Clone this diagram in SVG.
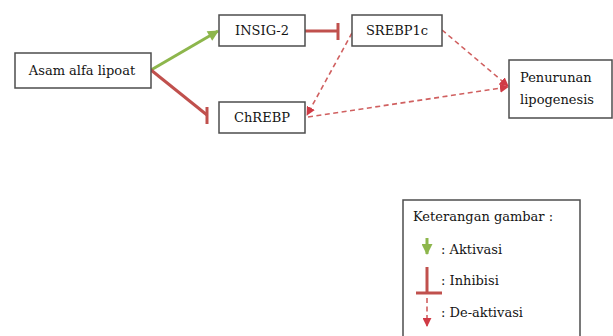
<svg xmlns="http://www.w3.org/2000/svg" width="613" height="336" viewBox="0 0 613 336">
  <style>
    .box { fill: #ffffff; stroke: #4d4d4d; stroke-width: 1.5; }
    .lbl { font-family: "DejaVu Serif", "Liberation Serif", serif; font-size: 13px; fill: #141414; }
    .act { stroke: #8db64c; stroke-width: 3; fill: none; }
    .inh { stroke: #c0504d; stroke-width: 3; fill: none; }
    .deact { stroke: #d06060; stroke-width: 1.6; fill: none; stroke-dasharray: 5 3.5; }
  </style>
  <defs>
    <marker id="arrGreen" viewBox="0 0 10 10" refX="9" refY="5" markerWidth="12" markerHeight="11" orient="auto" markerUnits="userSpaceOnUse">
      <path d="M0,0 L10,5 L0,10 z" fill="#8db64c"/>
    </marker>
    <marker id="arrRed" viewBox="0 0 10 10" refX="9" refY="5" markerWidth="9" markerHeight="9" orient="auto" markerUnits="userSpaceOnUse">
      <path d="M0,0 L10,5 L0,10 z" fill="#d03a45"/>
    </marker>
  </defs>

  <g id="connectors">
    <!-- activation -->
    <line class="act" x1="151" y1="70" x2="218" y2="31" marker-end="url(#arrGreen)"/>
    <!-- inhibition: lipoate to ChREBP -->
    <line class="inh" x1="151" y1="70" x2="207" y2="115"/>
    <line class="inh" x1="207" y1="107" x2="207" y2="124"/>
    <!-- inhibition: INSIG-2 to SREBP1c -->
    <line class="inh" x1="305" y1="31" x2="338" y2="31"/>
    <line class="inh" x1="338" y1="23" x2="338" y2="40"/>
    <!-- de-activation -->
    <line class="deact" x1="352" y1="33" x2="307" y2="115" marker-end="url(#arrRed)"/>
    <line class="deact" x1="442" y1="30" x2="508" y2="86" marker-end="url(#arrRed)"/>
    <line class="deact" x1="308" y1="117" x2="508" y2="87" marker-end="url(#arrRed)"/>
  </g>

  <g id="asam">
    <rect class="box" x="15" y="53" width="136" height="35"/>
    <text class="lbl" x="82" y="75" text-anchor="middle">Asam alfa lipoat</text>
  </g>
  <g id="insig2">
    <rect class="box" x="219" y="15" width="86" height="31"/>
    <text class="lbl" x="262" y="35" text-anchor="middle">INSIG-2</text>
  </g>
  <g id="chrebp">
    <rect class="box" x="219" y="102" width="86" height="31"/>
    <text class="lbl" x="262" y="122" text-anchor="middle">ChREBP</text>
  </g>
  <g id="srebp1c">
    <rect class="box" x="352" y="15" width="90" height="31"/>
    <text class="lbl" x="397" y="35" text-anchor="middle">SREBP1c</text>
  </g>
  <g id="penurunan">
    <rect class="box" x="509" y="60" width="103" height="58"/>
    <text class="lbl" x="520" y="82">Penurunan</text>
    <text class="lbl" x="520" y="104">lipogenesis</text>
  </g>

  <g id="legend">
    <rect class="box" x="403" y="200" width="177" height="150"/>
    <text class="lbl" x="413" y="221">Keterangan gambar :</text>
    <line class="act" x1="427" y1="238" x2="427" y2="254" marker-end="url(#arrGreen)"/>
    <text class="lbl" x="441" y="254">: Aktivasi</text>
    <line class="inh" x1="427" y1="267" x2="427" y2="293"/>
    <line class="inh" x1="416" y1="293" x2="442" y2="293"/>
    <text class="lbl" x="441" y="285">: Inhibisi</text>
    <line class="deact" x1="427" y1="298" x2="427" y2="326" marker-end="url(#arrRed)"/>
    <text class="lbl" x="441" y="317">: De-aktivasi</text>
  </g>
</svg>
